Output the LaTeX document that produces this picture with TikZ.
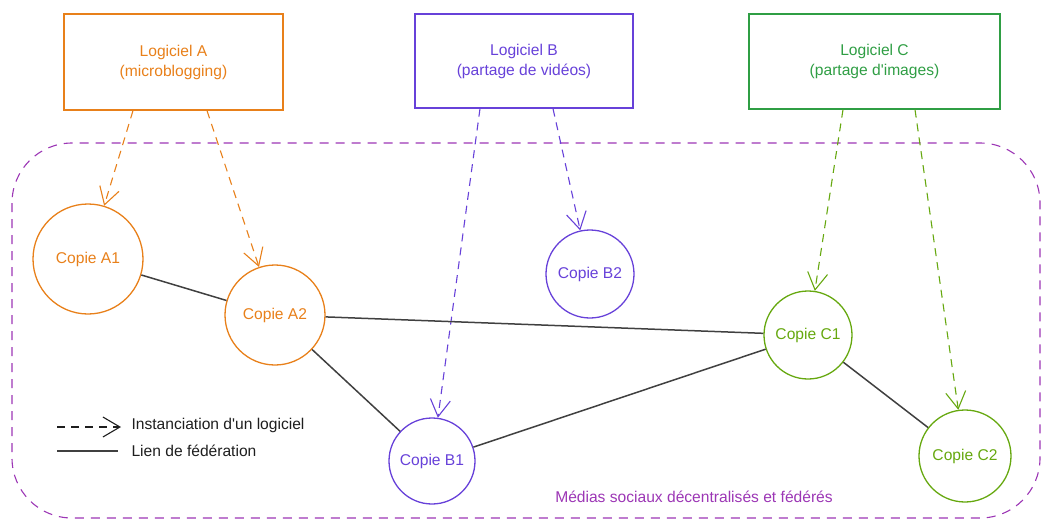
\documentclass[tikz,border=0pt]{standalone}
\usepackage{fontspec}
\setmainfont{Liberation Sans}[Ligatures=TeXOff]
\usetikzlibrary{arrows.meta}
\definecolor{orA}{HTML}{E8801A}
\definecolor{vioB}{HTML}{6741D9}
\definecolor{grnC}{HTML}{2F9E44}
\definecolor{grnL}{HTML}{66A80F}
\definecolor{purp}{HTML}{9C36B5}
\definecolor{ink}{HTML}{1E1E1E}
\begin{document}
\begin{tikzpicture}[x=1pt,y=-1pt,
  every node/.style={font=\fontsize{15.6}{20}\selectfont},
  softbox/.style={draw, line width=1.3pt, align=center, inner sep=0pt},
  copynode/.style={draw, circle, line width=1.3pt, inner sep=0pt},
  inst/.style={dashed, dash pattern=on 8pt off 6pt, line width=1.1pt, -{Straight Barb[length=17pt,width=20pt,line width=1.1pt]}},
  fed/.style={line width=1.5pt, ink!85},
  legendtext/.style={anchor=west, text=ink}
]
\useasboundingbox (0,0) rectangle (1045,520);

% frame
\draw[purp, line width=1.1pt, dash pattern=on 9pt off 7pt, rounded corners=60pt]
  (12,143) rectangle (1040,518);
\node[text=purp, anchor=center] (lab) at (694,497) {Médias sociaux décentralisés et fédérés};

% software boxes
\node[softbox, orA, minimum width=219pt, minimum height=96pt] (A) at (173.5,62) {Logiciel A\\(microblogging)};
\node[softbox, vioB, minimum width=218pt, minimum height=94pt] (B) at (524,61) {Logiciel B\\(partage de vidéos)};
\node[softbox, grnC, minimum width=251pt, minimum height=95pt] (C) at (874.5,61.5) {Logiciel C\\(partage d'images)};

% copies
\node[copynode, orA, minimum size=110pt] (A1) at (88,259) {Copie A1};
\node[copynode, orA, minimum size=100pt] (A2) at (275,315) {Copie A2};
\node[copynode, vioB, minimum size=86pt] (B1) at (432,461) {Copie B1};
\node[copynode, vioB, minimum size=88pt] (B2) at (590,274) {Copie B2};
\node[copynode, grnL, minimum size=88pt] (C1) at (808,335) {Copie C1};
\node[copynode, grnL, minimum size=92pt] (C2) at (965,456) {Copie C2};

% instanciation arrows
\draw[inst, orA] ([xshift=-40.5pt]A.south) -- (A1);
\draw[inst, orA] ([xshift=33.5pt]A.south) -- (A2);
\draw[inst, vioB] ([xshift=-44pt]B.south) -- (B1);
\draw[inst, vioB] ([xshift=29pt]B.south) -- (B2);
\draw[inst, grnL] ([xshift=-31.5pt]C.south) -- (C1);
\draw[inst, grnL] ([xshift=40.5pt]C.south) -- (C2);

% federation links
\draw[fed] (A1) -- (A2);
\draw[fed] (A2) -- (C1);
\draw[fed] (A2) -- (B1);
\draw[fed] (B1) -- (C1);
\draw[fed] (C1) -- (C2);

% legend
\coordinate (l1s) at (57,427);
\coordinate (l1e) at (121,427);
\coordinate (l2s) at (57,451);
\coordinate (l2e) at (118,451);
\draw[inst, ink] (l1s) -- (l1e);
\draw[fed] (l2s) -- (l2e);
\node[legendtext] (t1) at (128,425) {Instanciation d'un logiciel};
\node[legendtext] (t2) at (128,451) {Lien de fédération};
\end{tikzpicture}
\end{document}
